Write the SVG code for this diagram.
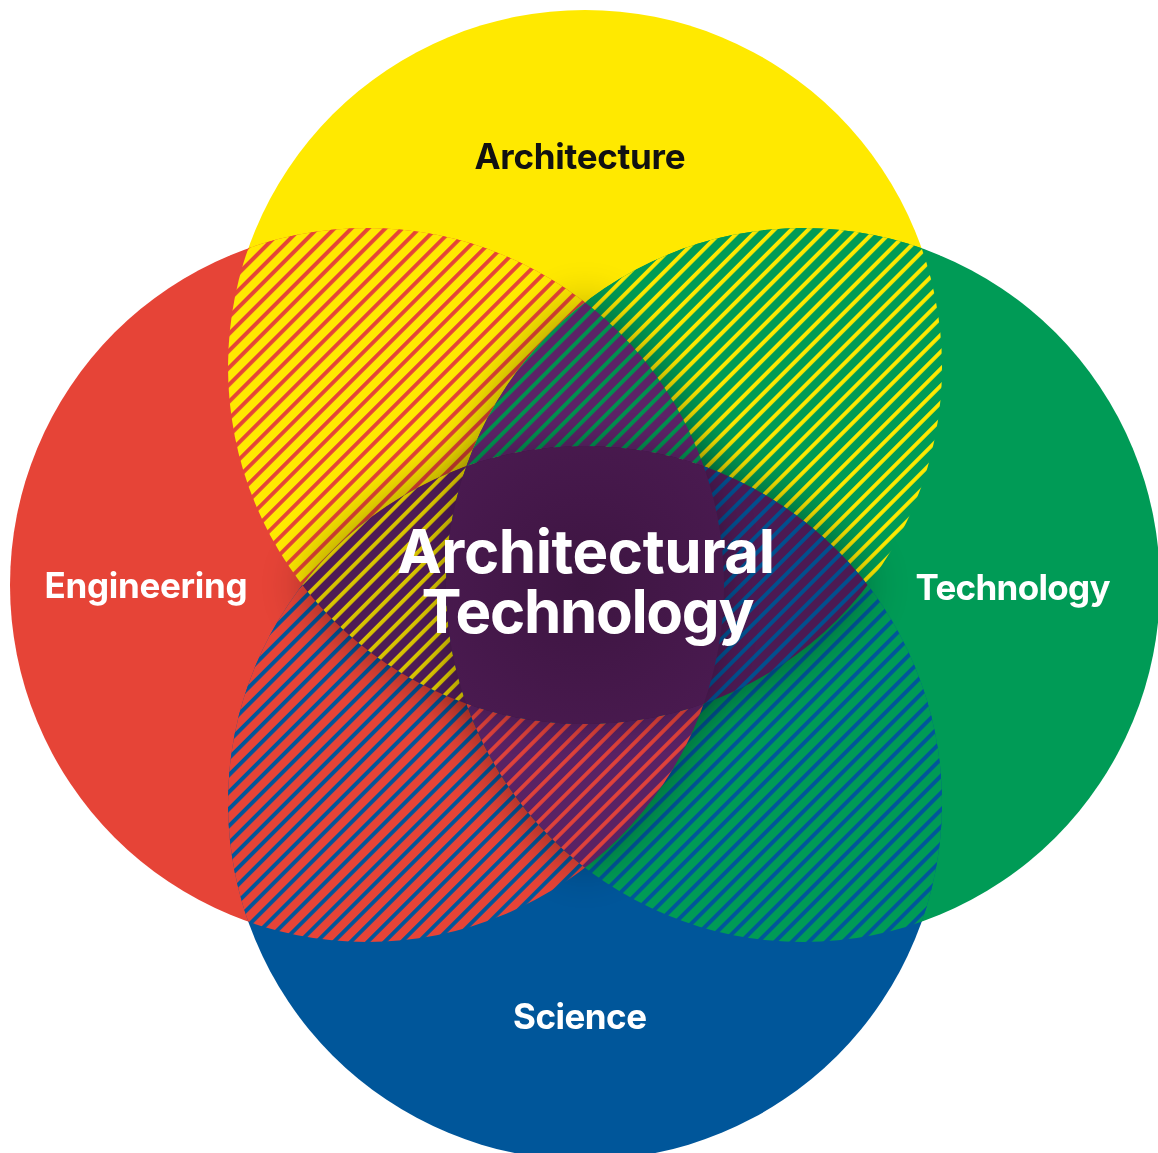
<svg xmlns="http://www.w3.org/2000/svg" xmlns:xlink="http://www.w3.org/1999/xlink" width="1158" height="1153" viewBox="0 0 1158 1153">
  <style>
    .lbl { font-family: Inter, "Liberation Sans", "DejaVu Sans", sans-serif; font-weight: 700; text-anchor: middle; }
    .small { font-size: 35px; }
    .big { font-size: 60px; fill: #ffffff; }
    .white { fill: #ffffff; }
    .dark { fill: #111111; }
  </style>
  <defs>
    <circle id="cirY" cx="585" cy="367" r="357"/>
    <circle id="cirR" cx="367" cy="585" r="357"/>
    <circle id="cirG" cx="803" cy="585" r="357"/>
    <circle id="cirB" cx="585" cy="803" r="357"/>
    <clipPath id="clipY"><use href="#cirY"/></clipPath>
    <clipPath id="clipR"><use href="#cirR"/></clipPath>
    <clipPath id="clipG"><use href="#cirG"/></clipPath>
    <clipPath id="clipB"><use href="#cirB"/></clipPath>

    <pattern id="pYR" width="12" height="12" patternUnits="userSpaceOnUse" patternTransform="rotate(45)">
      <rect width="12" height="12" fill="#FFE900"/><rect width="3.9" height="12" fill="#E54437"/>
    </pattern>
    <pattern id="pGY" width="12" height="12" patternUnits="userSpaceOnUse" patternTransform="rotate(45)">
      <rect width="12" height="12" fill="#009B56"/><rect width="3.9" height="12" fill="#FFE900"/>
    </pattern>
    <pattern id="pRB" width="12" height="12" patternUnits="userSpaceOnUse" patternTransform="rotate(45)">
      <rect width="12" height="12" fill="#E64437"/><rect width="3.9" height="12" fill="#00569A"/>
    </pattern>
    <pattern id="pGB" width="12" height="12" patternUnits="userSpaceOnUse" patternTransform="rotate(45)">
      <rect width="12" height="12" fill="#009B56"/><rect width="3.9" height="12" fill="#00569A"/>
    </pattern>
    <pattern id="pTop" width="12" height="12" patternUnits="userSpaceOnUse" patternTransform="rotate(45)">
      <rect width="12" height="12" fill="#5C2367"/><rect width="3.9" height="12" fill="#00914F"/>
    </pattern>
    <pattern id="pBot" width="12" height="12" patternUnits="userSpaceOnUse" patternTransform="rotate(45)">
      <rect width="12" height="12" fill="#5A2264"/><rect width="3.9" height="12" fill="#E0423A"/>
    </pattern>
    <pattern id="pLeft" width="12" height="12" patternUnits="userSpaceOnUse" patternTransform="rotate(45)">
      <rect width="12" height="12" fill="#4E1B55"/><rect width="3.9" height="12" fill="#D8C400"/>
    </pattern>
    <pattern id="pRight" width="12" height="12" patternUnits="userSpaceOnUse" patternTransform="rotate(45)">
      <rect width="12" height="12" fill="#4C1A53"/><rect width="3.9" height="12" fill="#00508F"/>
    </pattern>

    <radialGradient id="gQuad" gradientUnits="userSpaceOnUse" cx="585" cy="585" r="170">
      <stop offset="0" stop-color="#3D1541"/>
      <stop offset="1" stop-color="#4A1A50"/>
    </radialGradient>

    <filter id="blurA" filterUnits="userSpaceOnUse" x="0" y="0" width="1158" height="1153">
      <feGaussianBlur stdDeviation="24"/>
    </filter>
    <filter id="blurB" filterUnits="userSpaceOnUse" x="0" y="0" width="1158" height="1153">
      <feGaussianBlur stdDeviation="18"/>
    </filter>
  </defs>

  <rect width="1158" height="1153" fill="#ffffff"/>

  <!-- base circles (nodes) -->
  <g id="node-architecture"><use href="#cirY" fill="#FFE900"/></g>
  <g id="node-engineering"><use href="#cirR" fill="#E64437"/></g>
  <g id="node-technology"><use href="#cirG" fill="#009B56"/></g>
  <g id="node-science"><use href="#cirB" fill="#00569A"/></g>

  <!-- pairwise overlaps -->
  <g id="overlap-arch-eng" clip-path="url(#clipY)"><use href="#cirR" fill="url(#pYR)"/></g>
  <g id="overlap-arch-tech" clip-path="url(#clipY)"><use href="#cirG" fill="url(#pGY)"/></g>
  <g id="overlap-eng-sci" clip-path="url(#clipR)"><use href="#cirB" fill="url(#pRB)"/></g>
  <g id="overlap-tech-sci" clip-path="url(#clipG)"><use href="#cirB" fill="url(#pGB)"/></g>

  <!-- shadow of inner (3+) region -->
  <g id="shadow-inner" filter="url(#blurA)" opacity="0.42">
    <g clip-path="url(#clipY)"><use href="#cirB" fill="#000"/></g>
    <g clip-path="url(#clipR)"><use href="#cirG" fill="#000"/></g>
  </g>

  <!-- triple overlaps -->
  <g id="overlap-top" clip-path="url(#clipY)"><g clip-path="url(#clipR)"><use href="#cirG" fill="url(#pTop)"/></g></g>
  <g id="overlap-bottom" clip-path="url(#clipR)"><g clip-path="url(#clipG)"><use href="#cirB" fill="url(#pBot)"/></g></g>
  <g id="overlap-left" clip-path="url(#clipY)"><g clip-path="url(#clipB)"><use href="#cirR" fill="url(#pLeft)"/></g></g>
  <g id="overlap-right" clip-path="url(#clipY)"><g clip-path="url(#clipB)"><use href="#cirG" fill="url(#pRight)"/></g></g>

  <!-- shadow of centre -->
  <g id="shadow-centre" filter="url(#blurB)" opacity="0.3">
    <g clip-path="url(#clipY)"><g clip-path="url(#clipB)"><g clip-path="url(#clipR)"><use href="#cirG" fill="#000"/></g></g></g>
  </g>

  <!-- centre: all four -->
  <g id="node-centre">
    <g clip-path="url(#clipY)"><g clip-path="url(#clipB)"><g clip-path="url(#clipR)"><use href="#cirG" fill="url(#gQuad)"/></g></g></g>
  </g>

  <!-- labels -->
  <g id="labels">
    <text id="label-architecture" class="lbl small dark" x="580" y="169" textLength="211">Architecture</text>
    <text id="label-engineering" class="lbl small white" x="146" y="598" textLength="203">Engineering</text>
    <text id="label-technology" class="lbl small white" x="1013" y="600" textLength="195">Technology</text>
    <text id="label-science" class="lbl small white" x="580" y="1029" textLength="134">Science</text>
    <text id="label-centre-1" class="lbl big" x="586" y="573" textLength="378">Architectural</text>
    <text id="label-centre-2" class="lbl big" x="588" y="633" textLength="333">Technology</text>
  </g>
</svg>
